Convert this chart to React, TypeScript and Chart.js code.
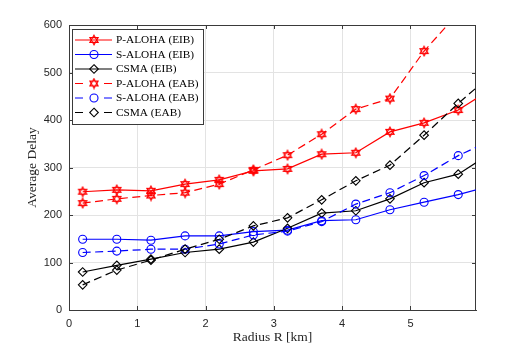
import React, { useEffect, useRef } from 'react';
import { Chart, registerables } from 'chart.js';
Chart.register(...registerables);

// ---- data ----
const radius = [0.2, 0.7, 1.2, 1.7, 2.2, 2.7, 3.2, 3.7, 4.2, 4.7, 5.2, 5.7, 6.2];
const pAlohaEIB = [249, 253, 251, 265, 274, 293, 297, 328, 331, 375, 394, 421, 467];
const sAlohaEIB = [149, 149, 147, 156, 156, 165, 168, 188, 190, 211, 227, 243, 262];
const csmaEIB = [80, 94, 107, 121, 128, 143, 172, 204, 209, 234, 268, 286, 332];
const pAlohaEAB = [225, 234, 241, 247, 265, 295, 326, 370, 423, 445, 545, 625, 705];
const sAlohaEAB = [121, 124, 128, 128, 139, 158, 166, 186, 223, 247, 283, 325, 358];
const csmaEAB = [53, 84, 105, 128, 149, 177, 194, 232, 272, 305, 368, 435, 497];
const seriesLabels = ['P-ALOHA (EIB)', 'S-ALOHA (EIB)', 'CSMA (EIB)', 'P-ALOHA (EAB)', 'S-ALOHA (EAB)', 'CSMA (EAB)'];
const xTicks = [0, 1, 2, 3, 4, 5];
const yTicks = [0, 100, 200, 300, 400, 500, 600];
const xMin = 0;
const xMax = 5.96;
const yMin = 0;
const yMax = 600;
const xTitle = 'Radius R [km]';
const yTitle = 'Average Delay';

const AXIS_COLOR = '#3a3a3a';
const GRID_COLOR = '#e3e3e3';
const TEXT_COLOR = '#262626';

function makeHexagram(color: string): HTMLCanvasElement {
  const c = document.createElement('canvas');
  c.width = 12;
  c.height = 12;
  const ctx = c.getContext('2d')!;
  const cx = 6, cy = 6, R = 4.8;
  ctx.strokeStyle = color;
  ctx.lineWidth = 1.1;
  for (let t = 0; t < 2; t++) {
    ctx.beginPath();
    for (let k = 0; k < 3; k++) {
      const a = -Math.PI / 2 + t * Math.PI + (k * 2 * Math.PI) / 3;
      const px = cx + R * Math.cos(a);
      const py = cy + R * Math.sin(a);
      if (k === 0) ctx.moveTo(px, py);
      else ctx.lineTo(px, py);
    }
    ctx.closePath();
    ctx.stroke();
  }
  return c;
}

export default function App() {
  const ref = useRef<HTMLCanvasElement | null>(null);

  useEffect(() => {
    const canvas = ref.current;
    if (!canvas) return;
    const hexRed = makeHexagram('#ff0000');

    const seriesValues = [pAlohaEIB, sAlohaEIB, csmaEIB, pAlohaEAB, sAlohaEAB, csmaEAB];
    const colors = ['#ff0000', '#0000ff', '#000000', '#ff0000', '#0000ff', '#000000'];
    const styles: any[] = [hexRed, 'circle', 'rectRot', hexRed, 'circle', 'rectRot'];
    const radii = [6, 4, 4.3, 6, 4, 4.3];
    const dashed = [false, false, false, true, true, true];
    const DASH = [8, 4.5];

    const datasets = seriesValues.map((vals, i) => ({
      label: seriesLabels[i],
      data: radius.map((x, j) => ({ x, y: vals[j] })),
      borderColor: colors[i],
      borderWidth: 1.2,
      borderDash: dashed[i] ? DASH : [],
      pointStyle: styles[i],
      pointRadius: radii[i],
      pointBorderColor: colors[i],
      pointBackgroundColor: 'rgba(0,0,0,0)',
      pointBorderWidth: 1.1,
      tension: 0,
      fill: false,
      order: 6 - i,
    }));

    const boxPlugin = {
      id: 'box',
      beforeDatasetsDraw(chart: any) {
        const { ctx, chartArea: a, scales } = chart;
        ctx.save();
        ctx.strokeStyle = AXIS_COLOR;
        ctx.lineWidth = 1;
        ctx.beginPath();
        ctx.moveTo(a.left, a.top + 0.5);
        ctx.lineTo(a.right, a.top + 0.5);
        ctx.moveTo(a.right - 0.5, a.top);
        ctx.lineTo(a.right - 0.5, a.bottom);
        const L = 4;
        xTicks.forEach((v) => {
          const px = Math.round(scales.x.getPixelForValue(v)) + 0.5;
          ctx.moveTo(px, a.bottom);
          ctx.lineTo(px, a.bottom - L);
          ctx.moveTo(px, a.top);
          ctx.lineTo(px, a.top + L);
        });
        yTicks.forEach((v) => {
          const py = Math.round(scales.y.getPixelForValue(v)) + 0.5;
          ctx.moveTo(a.left, py);
          ctx.lineTo(a.left + L, py);
          ctx.moveTo(a.right, py);
          ctx.lineTo(a.right - L, py);
        });
        ctx.stroke();
        ctx.restore();
      },
    };

    const legendPlugin = {
      id: 'innerLegend',
      afterDraw(chart: any) {
        const { ctx } = chart;
        const bx = 72.5, by = 29.5, bw = 131, bh = 95;
        ctx.save();
        ctx.fillStyle = '#ffffff';
        ctx.fillRect(bx, by, bw, bh);
        ctx.strokeStyle = AXIS_COLOR;
        ctx.lineWidth = 1;
        ctx.strokeRect(bx, by, bw, bh);
        const rowY0 = 40, rowStep = 14.5;
        const x0 = 75, x1 = 112, mx = 94;
        ctx.font = '11.3px "Liberation Serif"';
        ctx.textBaseline = 'middle';
        ctx.textAlign = 'left';
        seriesLabels.forEach((lab, i) => {
          const y = rowY0 + i * rowStep;
          ctx.strokeStyle = colors[i];
          ctx.lineWidth = 1.2;
          ctx.setLineDash([]);
          ctx.beginPath();
          if (dashed[i]) {
            ctx.moveTo(x0, y); ctx.lineTo(x0 + 8, y);
            ctx.moveTo(x1 - 8, y); ctx.lineTo(x1, y);
          } else {
            ctx.moveTo(x0, y); ctx.lineTo(x1, y);
          }
          ctx.stroke();
          ctx.lineWidth = 1.1;
          const st = styles[i];
          if (st instanceof HTMLCanvasElement) {
            ctx.drawImage(st, mx - st.width / 2, y - st.height / 2);
          } else if (st === 'circle') {
            ctx.beginPath();
            ctx.arc(mx, y, radii[i], 0, Math.PI * 2);
            ctx.stroke();
          } else {
            const r = radii[i];
            ctx.beginPath();
            ctx.moveTo(mx, y - r);
            ctx.lineTo(mx + r, y);
            ctx.lineTo(mx, y + r);
            ctx.lineTo(mx - r, y);
            ctx.closePath();
            ctx.stroke();
          }
          ctx.fillStyle = '#000000';
          ctx.fillText(lab, 116, y + 0.5);
        });
        ctx.restore();
      },
    };

    const tickFont = { family: '"Liberation Sans", Arial, sans-serif', size: 11 };
    const titleFont = { family: '"Liberation Serif", "Times New Roman", serif', size: 13.5 };

    const chart = new Chart(canvas, {
      type: 'line',
      data: { datasets: datasets as any },
      options: {
        animation: false,
        responsive: false,
        maintainAspectRatio: false,
        layout: { padding: { top: 25, right: 50, left: 0, bottom: 0 } },
        plugins: { legend: { display: false }, tooltip: { enabled: false } },
        scales: {
          x: {
            type: 'linear',
            min: xMin,
            max: xMax,
            afterBuildTicks: (s: any) => {
              s.ticks = xTicks.map((v) => ({ value: v }));
            },
            afterFit: (s: any) => {
              s.height = 39;
            },
            grid: { color: GRID_COLOR, drawTicks: false },
            border: { color: AXIS_COLOR, width: 1 },
            ticks: { padding: 7, font: tickFont, color: TEXT_COLOR, maxRotation: 0, callback: (v: any) => String(v) },
            title: { display: true, text: xTitle, font: titleFont, color: TEXT_COLOR, padding: { top: 0, bottom: 3 } },
          },
          y: {
            type: 'linear',
            min: yMin,
            max: yMax,
            afterBuildTicks: (s: any) => {
              s.ticks = yTicks.map((v) => ({ value: v }));
            },
            afterFit: (s: any) => {
              s.width = 69;
            },
            grid: { color: GRID_COLOR, drawTicks: false },
            border: { color: AXIS_COLOR, width: 1 },
            ticks: { padding: 7, font: tickFont, color: TEXT_COLOR, callback: (v: any) => String(v) },
            title: { display: true, text: yTitle, font: titleFont, color: TEXT_COLOR, padding: { top: 24, bottom: 0 } },
          },
        },
      },
      plugins: [boxPlugin, legendPlugin],
    });

    return () => chart.destroy();
  }, []);

  return (
    <div style={{ position: 'fixed', left: 0, top: 0, width: 526, height: 349, background: '#ffffff' }}>
      <canvas ref={ref} width={526} height={349} style={{ display: 'block', width: 526, height: 349 }} />
    </div>
  );
}
